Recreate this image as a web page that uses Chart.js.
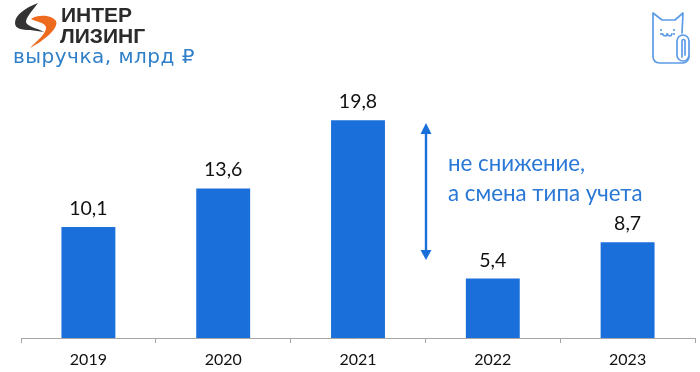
<!DOCTYPE html>
<html><head><meta charset="utf-8">
<style>html,body{margin:0;padding:0;background:#fff}canvas{display:block}</style>
<script src="https://cdn.jsdelivr.net/npm/chart.js@4"></script></head>
<body><div style="width:700px;height:372px"><canvas id="c" width="700" height="372"></canvas></div>
<script>
const years = ['2019','2020','2021','2022','2023'];
const revenue = [10.1,13.6,19.8,5.4,8.7];
const revenueLabels = ['10,1','13,6','19,8','5,4','8,7'];
const BLUE = '#1a6fdb';

const overlay = {
  id:'overlay',
  afterDatasetsDraw(chart){
    const c = chart.ctx, meta = chart.getDatasetMeta(0);
    c.save();
    c.fillStyle='#111'; c.font='19.5px Lato, Carlito, sans-serif'; c.textAlign='center'; c.textBaseline='alphabetic';
    meta.data.forEach((b,i)=>c.fillText(revenueLabels[i], b.x, b.y-12));
    // arrow
    c.strokeStyle=BLUE; c.fillStyle=BLUE; c.lineWidth=2.4;
    c.beginPath(); c.moveTo(426,128); c.lineTo(426,256); c.stroke();
    c.beginPath(); c.moveTo(426,123); c.lineTo(431.5,134); c.lineTo(420.5,134); c.closePath(); c.fill();
    c.beginPath(); c.moveTo(426,260); c.lineTo(431.5,250); c.lineTo(420.5,250); c.closePath(); c.fill();
    // note
    c.fillStyle='#2a78d6'; c.font='22.3px Lato, Carlito, sans-serif'; c.textAlign='left';
    c.fillText('не снижение,',448,171);
    c.fillText('а смена типа учета',448,201);
    // logo mark
    c.fillStyle='#333';
    c.beginPath(); c.moveTo(38,3); c.bezierCurveTo(25,8,15,15,15,23); c.bezierCurveTo(15,29,22,30,30,30);
    c.lineTo(44,32); c.bezierCurveTo(38,28,27,27,26,22); c.bezierCurveTo(26,17,33,10,38,3); c.closePath(); c.fill();
    c.fillStyle='#ee6a1f';
    c.beginPath(); c.moveTo(31,19); c.bezierCurveTo(38,14,52,15,56,21); c.bezierCurveTo(59,28,45,40,30,48);
    c.bezierCurveTo(37,41,47,33,46,27); c.bezierCurveTo(44,22,36,22,31,19); c.closePath(); c.fill();
    // logo text
    c.fillStyle='#2b2b2b'; c.font='bold 21px "Liberation Sans", sans-serif';
    c.fillText('ИНТЕР',61,22);
    c.fillText('ЛИЗИНГ',60,43);
    c.fillStyle='#2f7fc8'; c.font='20px "DejaVu Sans", sans-serif';
    c.letterSpacing='0.5px';
    c.fillText('выручка, млрд ₽',13,63);
    c.letterSpacing='0px';
    // cat
    c.strokeStyle='#5c9ce6'; c.lineWidth=1.7; c.lineJoin='round'; c.lineCap='round';
    c.beginPath(); c.moveTo(682,33); c.lineTo(683,13); c.lineTo(675,20); c.lineTo(662,20); c.lineTo(653,13);
    c.lineTo(653,56); c.quadraticCurveTo(653,63,660,63); c.lineTo(683,63); c.quadraticCurveTo(689,62,689,56); c.stroke();
    // paperclip
    c.beginPath(); c.moveTo(682,57); c.lineTo(682,41); c.arc(683.5,41,1.5,Math.PI,0); c.lineTo(685,55);
    c.moveTo(677,41); c.lineTo(677,55); c.arc(683,55,6,Math.PI,0,true); c.lineTo(689,41); c.arc(683,41,6,0,Math.PI,true); c.stroke();
    // face
    c.beginPath(); c.arc(665,33.5,2.3,0.2,Math.PI-0.2); c.stroke();
    c.beginPath(); c.arc(669.6,33.5,2.3,0.2,Math.PI-0.2); c.stroke();
    c.fillStyle='#5c9ce6';
    [[661,30],[674,30],[661,34],[674,34]].forEach(p=>{c.beginPath();c.arc(p[0],p[1],1.1,0,7);c.fill();});
    c.restore();
  }
};

new Chart(document.getElementById('c'),{
  type:'bar',
  data:{labels:years,datasets:[{data:revenue,backgroundColor:BLUE,categoryPercentage:1,barPercentage:0.4}]},
  plugins:[overlay],
  options:{
    responsive:false,animation:false,
    layout:{padding:{left:21,right:5,top:0,bottom:0}},
    plugins:{legend:{display:false},tooltip:{enabled:false}},
    scales:{
      y:{display:false,min:0,max:30.73},
      x:{
        afterFit(s){s.height=34;},
        grid:{display:true,drawOnChartArea:false,drawTicks:true,tickLength:5,color:'#a6a6a6',lineWidth:1},
        border:{display:true,color:'#a6a6a6',width:1},
        ticks:{color:'#111',font:{family:'Lato, Carlito, sans-serif',size:16},padding:7,maxRotation:0}
      }
    }
  }
});
</script></body></html>
